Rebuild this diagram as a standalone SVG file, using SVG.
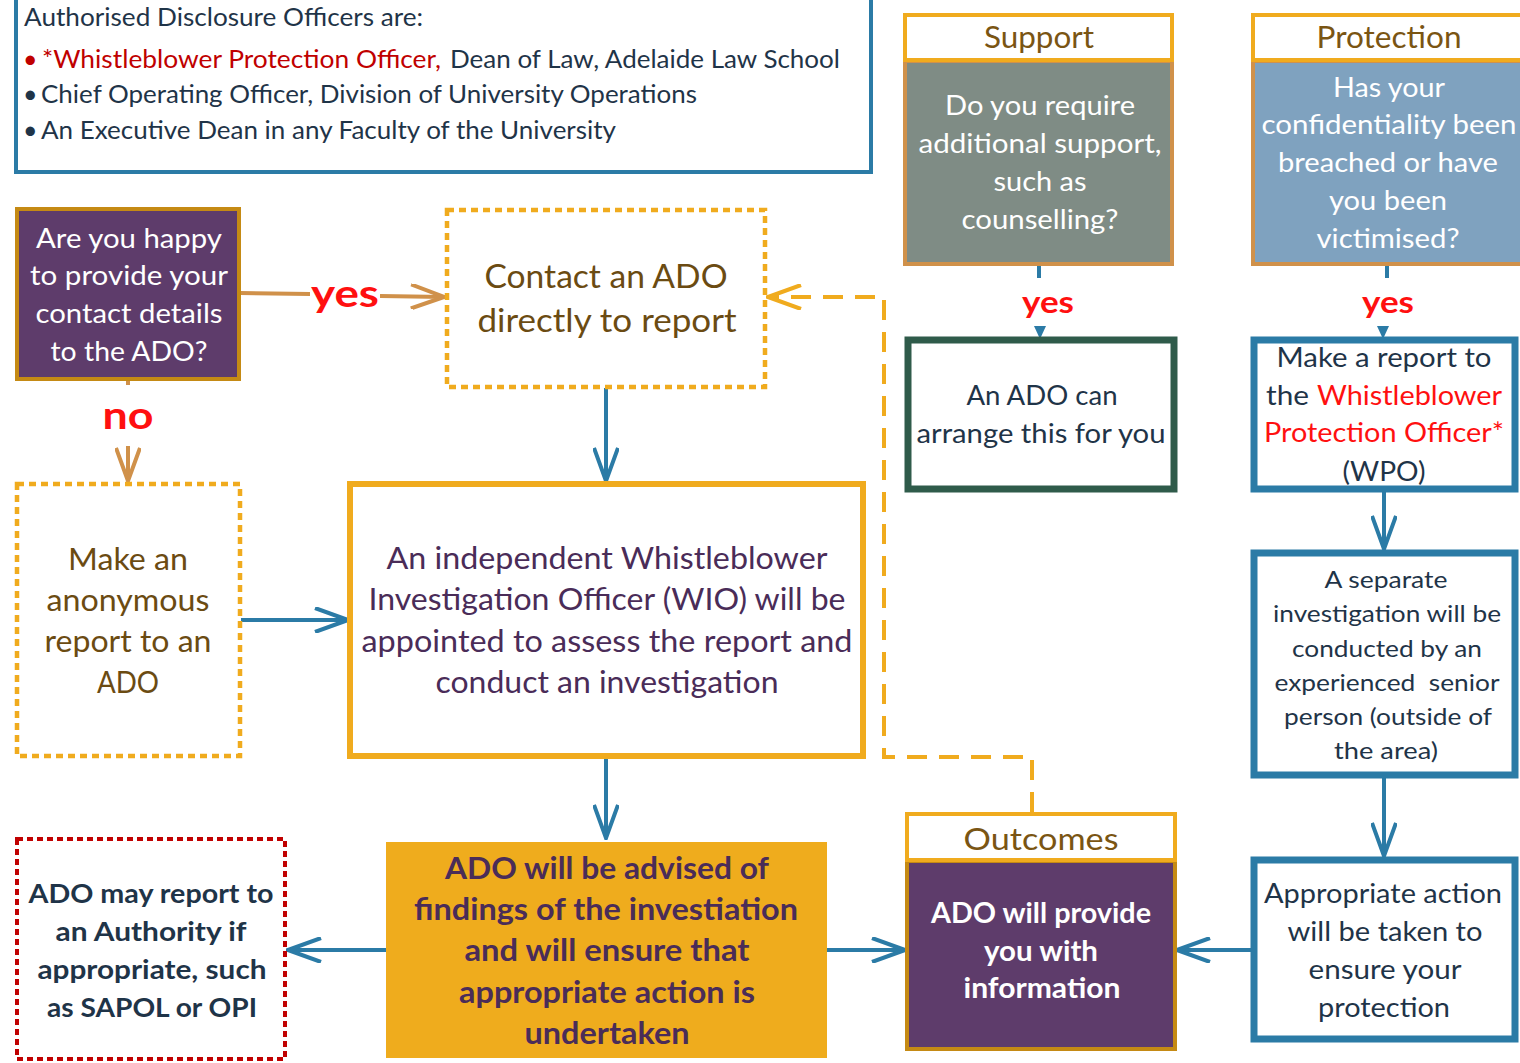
<svg xmlns="http://www.w3.org/2000/svg" width="1520" height="1063" viewBox="0 0 1520 1063">
<style>
text{font-family:Lato,"Open Sans","Liberation Sans",sans-serif;}
.c{text-anchor:middle;}
.w{fill:#ffffff;}
.dk{fill:#1f3448;}
.pu{fill:#4a2c58;}
.br{fill:#6b4b12;}
.hd{fill:#7a5513;}
.red{fill:#ff1010;}
.dred{fill:#c00000;}
.b{font-weight:bold;}
.blue{stroke:#2b7ba6;stroke-width:4;fill:none;}
.tan{stroke:#d0914a;stroke-width:4;fill:none;}
.dash{stroke:#f0ab1e;stroke-width:4;fill:none;stroke-dasharray:20 12;}
.dot{fill:#ffffff;stroke:#f0ab1e;stroke-width:4.5;stroke-dasharray:7 5;}
</style>
<defs>
<marker id="ab" viewBox="0 0 36 26" refX="34" refY="13" markerWidth="36" markerHeight="26" markerUnits="userSpaceOnUse" orient="auto">
<path d="M1,1 L34,13 L1,25" fill="none" stroke="#2b7ba6" stroke-width="4"/>
</marker>
<marker id="at" viewBox="0 0 36 26" refX="34" refY="13" markerWidth="36" markerHeight="26" markerUnits="userSpaceOnUse" orient="auto">
<path d="M1,1 L34,13 L1,25" fill="none" stroke="#d0914a" stroke-width="4"/>
</marker>
<marker id="ao" viewBox="0 0 36 26" refX="34" refY="13" markerWidth="36" markerHeight="26" markerUnits="userSpaceOnUse" orient="auto">
<path d="M1,1 L34,13 L1,25" fill="none" stroke="#f0ab1e" stroke-width="4"/>
</marker>
</defs>

<g id="ado-list">
<rect x="16" y="-10" width="855" height="182" fill="#ffffff" stroke="#2b7ba6" stroke-width="4"/>
<text x="24" y="26" font-size="25" class="dk" textLength="399" lengthAdjust="spacingAndGlyphs">Authorised Disclosure Officers are:</text>
<text x="23" y="68" font-size="25" class="dred">•</text>
<text x="42" y="68" font-size="25" class="dred" textLength="399" lengthAdjust="spacingAndGlyphs">*Whistleblower Protection Officer,</text>
<text x="450" y="68" font-size="25" class="dk" textLength="390" lengthAdjust="spacingAndGlyphs">Dean of Law, Adelaide Law School</text>
<text x="23" y="103" font-size="25" class="dk">•</text>
<text x="41" y="103" font-size="25" class="dk" textLength="656" lengthAdjust="spacingAndGlyphs">Chief Operating Officer, Division of University Operations</text>
<text x="23" y="139" font-size="25" class="dk">•</text>
<text x="41" y="139" font-size="25" class="dk" textLength="575" lengthAdjust="spacingAndGlyphs">An Executive Dean in any Faculty of the University</text>
</g>

<g id="connectors">
<line x1="240" y1="293" x2="310" y2="294" class="tan"/>
<line x1="380" y1="296" x2="444" y2="297" class="tan" marker-end="url(#at)"/>
<text x="345" y="307" font-size="38" class="c b red" textLength="68" lengthAdjust="spacingAndGlyphs">yes</text>
<line x1="128" y1="379" x2="128" y2="385" class="tan"/>
<text x="128" y="429" font-size="38" class="c b red" textLength="51" lengthAdjust="spacingAndGlyphs">no</text>
<line x1="128" y1="446" x2="128" y2="481" class="tan" marker-end="url(#at)"/>
<line x1="606" y1="388" x2="606" y2="481" class="blue" marker-end="url(#ab)"/>
<line x1="241" y1="620" x2="348" y2="620" class="blue" marker-end="url(#ab)"/>
<line x1="606" y1="758" x2="606" y2="838" class="blue" marker-end="url(#ab)"/>
<line x1="386" y1="950" x2="288" y2="950" class="blue" marker-end="url(#ab)"/>
<line x1="827" y1="950" x2="905" y2="950" class="blue" marker-end="url(#ab)"/>
<line x1="1252" y1="950" x2="1177" y2="950" class="blue" marker-end="url(#ab)"/>
<line x1="1384" y1="491" x2="1384" y2="549" class="blue" marker-end="url(#ab)"/>
<line x1="1384" y1="777" x2="1384" y2="856" class="blue" marker-end="url(#ab)"/>
<polyline points="1032,812 1032,757 884,757 884,297 768,297" class="dash" marker-end="url(#ao)"/>
<line x1="1039" y1="265" x2="1039" y2="278" class="blue"/>
<path d="M1034,326 L1046,326 L1040,339 Z" fill="#2b7ba6"/>
<text x="1048" y="313" font-size="31" class="c b red" textLength="52" lengthAdjust="spacingAndGlyphs">yes</text>
<line x1="1387" y1="265" x2="1387" y2="278" class="blue"/>
<path d="M1377,326 L1389,326 L1383,339 Z" fill="#2b7ba6"/>
<text x="1388" y="313" font-size="31" class="c b red" textLength="52" lengthAdjust="spacingAndGlyphs">yes</text>
</g>

<g id="happy">
<rect x="17" y="209" width="222" height="170" fill="#5e3c6b" stroke="#c58a14" stroke-width="4"/>
<text x="129" y="248" font-size="27" class="c w" textLength="186" lengthAdjust="spacingAndGlyphs">Are you happy</text>
<text x="129" y="285" font-size="27" class="c w" textLength="198" lengthAdjust="spacingAndGlyphs">to provide your</text>
<text x="129" y="323" font-size="27" class="c w" textLength="187" lengthAdjust="spacingAndGlyphs">contact details</text>
<text x="129" y="361" font-size="27" class="c w" textLength="157" lengthAdjust="spacingAndGlyphs">to the ADO?</text>
</g>

<g id="contact">
<rect x="447" y="210" width="318" height="177" class="dot"/>
<text x="606" y="288" font-size="33" class="c br" textLength="243" lengthAdjust="spacingAndGlyphs">Contact an ADO</text>
<text x="607" y="332" font-size="33" class="c br" textLength="259" lengthAdjust="spacingAndGlyphs">directly to report</text>
</g>

<g id="anonymous">
<rect x="17" y="484" width="223" height="272" class="dot"/>
<text x="128" y="570" font-size="30" class="c br" textLength="120" lengthAdjust="spacingAndGlyphs">Make an</text>
<text x="128" y="611" font-size="30" class="c br" textLength="163" lengthAdjust="spacingAndGlyphs">anonymous</text>
<text x="128" y="652" font-size="30" class="c br" textLength="167" lengthAdjust="spacingAndGlyphs">report to an</text>
<text x="128" y="693" font-size="30" class="c br" textLength="62" lengthAdjust="spacingAndGlyphs">ADO</text>
</g>

<g id="wio">
<rect x="350" y="484" width="513" height="272" fill="#ffffff" stroke="#f0ab1e" stroke-width="6"/>
<text x="607" y="569" font-size="30" class="c pu" textLength="441" lengthAdjust="spacingAndGlyphs">An independent Whistleblower</text>
<text x="607" y="610" font-size="30" class="c pu" textLength="477" lengthAdjust="spacingAndGlyphs">Investigation Officer (WIO) will be</text>
<text x="607" y="652" font-size="30" class="c pu" textLength="491" lengthAdjust="spacingAndGlyphs">appointed to assess the report and</text>
<text x="607" y="693" font-size="30" class="c pu" textLength="343" lengthAdjust="spacingAndGlyphs">conduct an investigation</text>
</g>

<g id="findings">
<rect x="386" y="842" width="441" height="216" fill="#efac1d"/>
<text x="607" y="879" font-size="30" class="c b pu" textLength="324" lengthAdjust="spacingAndGlyphs">ADO will be advised of</text>
<text x="606" y="920" font-size="30" class="c b pu" textLength="384" lengthAdjust="spacingAndGlyphs">findings of the investiation</text>
<text x="607" y="961" font-size="30" class="c b pu" textLength="285" lengthAdjust="spacingAndGlyphs">and will ensure that</text>
<text x="607" y="1003" font-size="30" class="c b pu" textLength="296" lengthAdjust="spacingAndGlyphs">appropriate action is</text>
<text x="607" y="1044" font-size="30" class="c b pu" textLength="165" lengthAdjust="spacingAndGlyphs">undertaken</text>
</g>

<g id="authority">
<rect x="17" y="839" width="268" height="220" fill="#ffffff" stroke="#c00000" stroke-width="4" stroke-dasharray="6 4"/>
<text x="151" y="903" font-size="27" class="c b dk" textLength="245" lengthAdjust="spacingAndGlyphs">ADO may report to</text>
<text x="151" y="941" font-size="27" class="c b dk" textLength="191" lengthAdjust="spacingAndGlyphs">an Authority if</text>
<text x="152" y="979" font-size="27" class="c b dk" textLength="229" lengthAdjust="spacingAndGlyphs">appropriate, such</text>
<text x="152" y="1017" font-size="27" class="c b dk" textLength="210" lengthAdjust="spacingAndGlyphs">as SAPOL or OPI</text>
</g>

<g id="support">
<rect x="905" y="61" width="267" height="203" fill="#7f8c85" stroke="#d0914a" stroke-width="4"/>
<rect x="905" y="15" width="267" height="45" fill="#ffffff" stroke="#f0ab1e" stroke-width="4"/>
<text x="1039" y="48" font-size="30" class="c hd" textLength="110" lengthAdjust="spacingAndGlyphs">Support</text>
<text x="1040" y="115" font-size="27" class="c w" textLength="190" lengthAdjust="spacingAndGlyphs">Do you require</text>
<text x="1040" y="153" font-size="27" class="c w" textLength="243" lengthAdjust="spacingAndGlyphs">additional support,</text>
<text x="1040" y="191" font-size="27" class="c w" textLength="93" lengthAdjust="spacingAndGlyphs">such as</text>
<text x="1040" y="229" font-size="27" class="c w" textLength="157" lengthAdjust="spacingAndGlyphs">counselling?</text>
</g>

<g id="arrange">
<rect x="908" y="340" width="266" height="149" fill="#ffffff" stroke="#2f5b4a" stroke-width="7"/>
<text x="1042" y="405" font-size="27" class="c dk" textLength="151" lengthAdjust="spacingAndGlyphs">An ADO can</text>
<text x="1041" y="443" font-size="27" class="c dk" textLength="249" lengthAdjust="spacingAndGlyphs">arrange this for you</text>
</g>

<g id="protection">
<rect x="1253" y="61" width="272" height="203" fill="#7fa2bf" stroke="#d0914a" stroke-width="4"/>
<rect x="1253" y="15" width="272" height="45" fill="#ffffff" stroke="#f0ab1e" stroke-width="4"/>
<text x="1389" y="48" font-size="30" class="c hd" textLength="145" lengthAdjust="spacingAndGlyphs">Protection</text>
<text x="1389" y="97" font-size="27" class="c w" textLength="112" lengthAdjust="spacingAndGlyphs">Has your</text>
<text x="1389" y="134" font-size="27" class="c w" textLength="255" lengthAdjust="spacingAndGlyphs">confidentiality been</text>
<text x="1388" y="172" font-size="27" class="c w" textLength="220" lengthAdjust="spacingAndGlyphs">breached or have</text>
<text x="1388" y="210" font-size="27" class="c w" textLength="118" lengthAdjust="spacingAndGlyphs">you been</text>
<text x="1388" y="248" font-size="27" class="c w" textLength="143" lengthAdjust="spacingAndGlyphs">victimised?</text>
</g>

<g id="wpo">
<rect x="1254" y="340" width="261" height="149" fill="#ffffff" stroke="#2b7ba6" stroke-width="7"/>
<text x="1384" y="367" font-size="27" class="c dk" textLength="215" lengthAdjust="spacingAndGlyphs">Make a report to</text>
<text x="1266" y="405" font-size="27" class="dk" textLength="43" lengthAdjust="spacingAndGlyphs">the</text>
<text x="1317" y="405" font-size="27" class="red" textLength="185" lengthAdjust="spacingAndGlyphs">Whistleblower</text>
<text x="1384" y="442" font-size="27" class="c red" textLength="240" lengthAdjust="spacingAndGlyphs">Protection Officer*</text>
<text x="1384" y="481" font-size="27" class="c dk" textLength="83" lengthAdjust="spacingAndGlyphs">(WPO)</text>
</g>

<g id="separate">
<rect x="1254" y="553" width="261" height="222" fill="#ffffff" stroke="#2b7ba6" stroke-width="7"/>
<text x="1386" y="588" font-size="24" class="c dk" textLength="123" lengthAdjust="spacingAndGlyphs">A separate</text>
<text x="1387" y="622" font-size="24" class="c dk" textLength="228" lengthAdjust="spacingAndGlyphs">investigation will be</text>
<text x="1387" y="657" font-size="24" class="c dk" textLength="190" lengthAdjust="spacingAndGlyphs">conducted by an</text>
<text x="1387" y="691" font-size="24" class="c dk" textLength="225" lengthAdjust="spacingAndGlyphs" xml:space="preserve" style="white-space:pre">experienced  senior</text>
<text x="1388" y="725" font-size="24" class="c dk" textLength="208" lengthAdjust="spacingAndGlyphs">person (outside of</text>
<text x="1386" y="759" font-size="24" class="c dk" textLength="104" lengthAdjust="spacingAndGlyphs">the area)</text>
</g>

<g id="action">
<rect x="1254" y="860" width="261" height="179" fill="#ffffff" stroke="#2b7ba6" stroke-width="7"/>
<text x="1383" y="903" font-size="27" class="c dk" textLength="238" lengthAdjust="spacingAndGlyphs">Appropriate action</text>
<text x="1385" y="941" font-size="27" class="c dk" textLength="195" lengthAdjust="spacingAndGlyphs">will be taken to</text>
<text x="1385" y="979" font-size="27" class="c dk" textLength="153" lengthAdjust="spacingAndGlyphs">ensure your</text>
<text x="1384" y="1017" font-size="27" class="c dk" textLength="132" lengthAdjust="spacingAndGlyphs">protection</text>
</g>

<g id="outcomes">
<rect x="907" y="861" width="268" height="188" fill="#5e3c6b" stroke="#c58a14" stroke-width="4"/>
<rect x="907" y="814" width="268" height="46" fill="#ffffff" stroke="#f0ab1e" stroke-width="4"/>
<text x="1041" y="850" font-size="31" class="c hd" textLength="155" lengthAdjust="spacingAndGlyphs">Outcomes</text>
<text x="1041" y="923" font-size="28" class="c b w" textLength="220" lengthAdjust="spacingAndGlyphs">ADO will provide</text>
<text x="1041" y="961" font-size="28" class="c b w" textLength="114" lengthAdjust="spacingAndGlyphs">you with</text>
<text x="1042" y="998" font-size="28" class="c b w" textLength="157" lengthAdjust="spacingAndGlyphs">information</text>
</g>
</svg>
